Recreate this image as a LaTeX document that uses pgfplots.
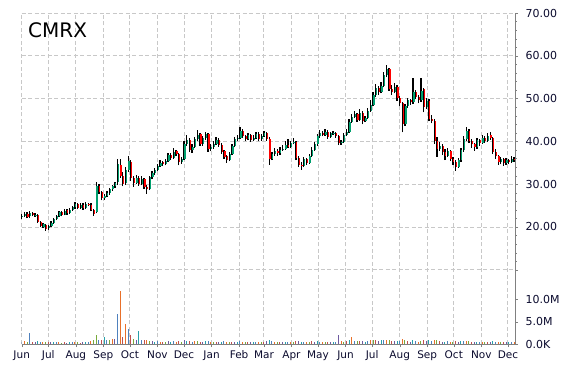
\documentclass[border=0pt]{standalone}
\usepackage{pgfplots}
\pgfplotsset{compat=1.18}
\usepackage{pgfplotstable}
\usepackage{fontspec}
\setmainfont{DejaVu Sans}
\definecolor{upc}{RGB}{0,160,110}
\definecolor{dnc}{RGB}{255,0,0}
\definecolor{gridc}{RGB}{200,200,200}
\definecolor{axc}{RGB}{128,128,128}
\definecolor{txt}{RGB}{10,10,45}
\definecolor{v0}{RGB}{79,129,189}
\definecolor{v1}{RGB}{232,112,42}
\definecolor{v2}{RGB}{120,170,60}
\definecolor{v3}{RGB}{192,80,77}
\definecolor{v4}{RGB}{110,90,160}
\definecolor{v5}{RGB}{40,160,170}
\pgfplotstableread{
d o h l c v k
0 22.3 23.0 21.9 22.6 0.5 0
3 22.6 23.6 22.3 23.1 0.6 1
6 23.1 23.4 22.0 22.4 0.4 2
9 22.5 23.8 22.2 23.3 2.5 0
12 23.3 23.6 22.5 22.8 0.5 3
15 22.7 23.3 22.4 22.9 0.4 4
18 22.8 23.0 20.9 21.2 0.6 5
21 21.1 21.5 19.9 20.3 0.5 0
24 20.1 20.9 19.8 20.6 0.4 1
27 20.5 20.8 19.1 19.6 0.5 2
30 19.7 20.5 19.4 20.2 0.4 3
33 20.2 21.3 20.0 21.0 0.4 4
36 21.0 22.2 20.8 21.9 0.5 5
39 21.9 22.9 21.6 22.6 0.4 0
42 22.5 23.8 22.3 23.4 0.5 1
45 23.5 23.7 22.5 22.9 0.3 2
48 22.9 24.3 22.7 23.8 0.4 3
51 23.9 24.2 22.9 23.3 0.3 4
54 23.3 24.4 23.0 24.0 0.4 5
57 24.0 25.0 23.7 24.6 0.4 0
60 24.6 25.8 24.3 25.3 0.5 1
63 25.4 25.7 24.1 24.5 0.4 2
66 24.5 25.6 24.2 25.2 0.3 3
69 25.2 25.5 24.0 24.4 0.4 4
72 24.4 25.8 24.2 25.4 0.5 5
75 25.4 25.7 24.8 25.1 0.4 0
78 25.1 25.5 23.7 24.0 0.6 1
81 24.0 24.3 22.6 23.0 0.8 2
84 23.4 30.5 23.2 29.6 2.0 2
87 29.6 30.0 27.8 28.2 1.0 0
90 28.1 28.5 26.2 26.8 0.8 3
93 26.8 27.8 26.4 27.3 1.5 5
96 27.3 28.4 27.0 27.9 0.9 0
99 27.9 29.2 27.5 28.8 0.8 2
102 28.8 29.9 28.4 29.5 1.2 1
105 29.5 30.6 29.1 30.2 1.1 4
108 30.4 36.0 29.8 34.8 6.7 0
111 34.6 35.8 31.5 32.0 12.0 1
114 32.0 32.8 29.5 30.1 1.6 3
117 30.2 34.0 29.9 33.2 4.5 1
120 33.3 36.6 32.8 35.4 3.4 0
123 35.2 35.6 30.8 31.5 2.0 3
126 31.5 32.0 29.4 30.3 1.2 2
129 30.3 32.2 30.0 31.4 1.0 4
132 31.4 31.8 29.6 30.0 3.0 5
135 30.0 31.8 29.7 31.2 0.8 0
138 31.2 31.5 28.9 29.4 0.9 3
141 29.4 29.8 27.8 28.8 0.8 1
144 28.8 32.0 28.6 31.6 0.7 2
147 31.6 33.0 31.2 32.5 0.6 4
150 32.5 33.9 32.1 33.4 0.5 5
153 33.4 34.8 33.0 34.3 0.6 0
156 34.3 35.6 34.0 35.0 0.5 1
159 35.1 35.5 34.2 34.7 0.4 3
162 34.7 36.0 34.4 35.5 0.5 2
165 35.5 37.4 35.2 36.8 0.6 4
168 36.9 37.3 35.7 36.1 0.4 5
171 36.1 38.4 35.9 37.6 0.6 0
174 37.7 38.0 36.5 37.0 0.5 1
177 37.0 37.3 34.4 35.2 0.7 3
180 35.2 36.4 34.8 35.8 0.5 2
183 35.8 40.0 35.6 39.4 0.8 4
186 39.4 41.6 39.0 40.3 0.7 5
189 40.4 40.7 37.5 38.0 0.6 3
192 38.0 39.4 37.4 38.7 0.5 0
195 38.7 41.0 38.4 40.5 0.6 1
198 40.5 42.7 40.1 41.6 0.7 2
201 41.7 42.0 38.9 39.4 0.5 3
204 39.4 41.3 39.0 40.8 0.5 4
207 40.8 42.3 40.4 41.7 0.6 5
210 41.7 42.0 37.6 38.2 0.7 0
213 38.2 39.3 37.7 38.8 0.5 1
216 38.8 40.0 38.3 39.5 0.4 2
219 39.5 41.0 39.2 40.4 0.5 3
222 40.4 40.8 38.8 39.2 0.4 4
225 39.2 39.6 37.1 37.6 0.5 5
228 37.7 38.0 35.9 36.4 0.6 0
231 36.5 36.8 35.0 35.7 0.5 1
234 35.7 37.6 35.4 37.1 0.5 2
237 37.1 39.4 36.8 38.9 0.4 3
240 38.9 41.1 38.6 40.6 0.5 4
243 40.6 41.4 40.2 40.9 0.4 5
246 40.9 43.4 40.6 42.4 0.6 0
249 42.4 42.8 40.8 41.2 0.5 1
252 41.2 41.6 40.1 40.6 0.4 2
255 40.6 42.0 40.3 41.5 0.5 3
258 41.5 41.8 39.8 40.3 0.4 4
261 40.3 41.4 40.0 40.9 0.5 5
264 40.9 42.3 40.6 41.8 0.4 0
267 41.8 42.1 40.0 40.5 0.5 1
270 40.5 41.8 40.2 41.3 0.4 2
273 41.3 42.4 41.0 41.9 0.5 3
276 41.9 42.2 40.1 40.6 0.6 4
279 40.6 41.0 34.6 36.0 0.9 5
282 36.0 37.6 35.6 37.1 0.6 0
285 37.1 38.4 36.7 37.8 0.5 1
288 37.8 38.2 36.6 37.2 0.4 2
291 37.2 38.6 36.9 38.1 0.5 3
294 38.1 39.2 37.8 38.3 0.4 4
297 38.3 40.0 38.0 39.2 0.5 5
300 39.2 40.6 38.5 38.8 0.4 0
303 38.8 40.2 38.5 39.6 0.5 1
306 39.6 40.8 39.3 39.9 0.4 2
309 39.9 40.2 35.6 36.2 0.7 3
312 36.2 36.7 34.0 34.6 0.6 4
315 34.6 35.3 33.4 34.2 0.5 5
318 34.2 36.3 34.0 35.8 0.5 0
321 35.8 36.1 34.6 35.0 0.4 1
324 35.0 37.0 34.7 36.6 0.5 2
327 36.6 38.6 36.3 38.1 0.6 3
330 38.1 39.8 37.8 39.3 0.5 4
333 39.3 41.8 39.0 41.2 0.6 5
336 41.2 42.6 40.9 42.0 0.5 0
339 42.0 42.4 41.2 41.6 0.4 1
342 41.6 42.8 41.3 42.3 0.5 2
345 42.3 42.6 40.6 41.1 0.4 3
348 41.1 42.3 40.8 41.9 0.5 4
351 41.9 42.5 41.5 42.0 0.4 5
354 42.0 42.3 40.9 41.3 0.5 0
357 41.3 41.6 39.1 39.6 2.0 4
360 39.6 40.4 39.2 39.9 0.6 1
363 39.9 42.0 39.6 41.5 0.5 2
366 41.5 42.8 41.2 42.2 0.6 3
369 42.2 45.2 42.0 44.6 0.8 5
372 44.6 46.4 44.3 45.8 1.6 1
375 45.8 47.2 45.4 46.3 0.7 0
378 46.3 46.7 44.6 45.1 0.6 2
381 45.1 47.6 44.8 46.6 0.7 3
384 46.6 47.0 44.0 44.8 0.6 4
387 44.8 46.0 44.5 45.5 0.5 5
390 45.5 47.8 45.2 47.2 0.7 0
393 47.2 49.6 46.9 48.6 0.8 1
396 48.6 51.6 48.3 50.8 0.9 2
399 50.8 53.4 50.4 52.4 1.0 3
402 52.4 53.0 50.9 51.6 0.7 4
405 51.6 53.9 51.2 52.9 0.8 5
408 52.9 56.2 52.6 55.4 0.9 0
411 55.4 57.9 55.0 56.8 1.0 1
414 56.8 57.2 51.8 52.3 0.9 2
417 52.3 53.2 50.8 51.5 0.7 3
420 51.5 53.6 51.2 52.8 0.6 4
423 52.8 53.2 49.5 50.1 0.7 5
426 50.1 50.6 48.2 48.9 0.6 0
429 48.9 49.3 42.1 44.0 1.1 1
432 44.0 48.8 43.6 48.3 0.9 2
435 48.3 50.2 47.9 49.6 0.6 3
438 49.6 50.0 48.5 49.1 0.5 4
441 49.1 54.8 48.8 51.5 0.8 5
444 51.5 52.0 49.8 50.4 0.6 0
447 50.4 50.8 48.9 49.6 0.5 1
450 49.6 54.8 49.3 51.7 0.7 2
453 52.2 52.5 46.8 48.0 0.8 3
456 48.0 50.1 47.6 49.5 0.6 4
459 49.5 49.8 44.7 45.3 0.8 5
462 45.3 46.2 44.2 44.8 0.6 0
465 44.8 45.2 39.4 40.1 0.9 1
468 40.1 41.0 36.4 38.2 0.8 2
471 38.2 39.8 37.8 38.9 0.6 3
474 38.9 39.4 36.8 37.5 0.5 4
477 37.5 38.2 35.6 36.7 0.5 5
480 36.7 38.4 36.3 37.8 0.6 0
483 37.8 38.1 35.4 35.9 0.5 1
486 35.9 36.4 34.6 35.2 0.5 2
489 35.2 35.6 33.1 34.1 0.6 3
492 34.1 36.2 33.8 35.6 0.5 4
495 35.6 38.5 35.3 37.9 0.6 5
498 37.9 41.2 37.6 40.6 0.7 0
501 40.6 43.4 40.2 42.4 0.7 1
504 42.4 42.9 39.6 40.2 0.6 2
507 40.2 40.6 38.5 39.3 0.5 3
510 39.3 39.7 37.8 38.6 0.5 4
513 38.6 40.9 38.3 40.3 0.5 5
516 40.3 40.6 39.0 39.7 0.4 0
519 39.7 41.5 39.4 40.8 0.5 1
522 40.8 41.2 39.6 40.2 0.4 2
525 40.2 42.0 39.9 41.3 0.5 3
528 41.4 42.1 40.4 40.8 0.5 4
531 40.8 41.1 37.0 37.6 0.6 5
534 37.6 38.2 35.9 36.5 0.5 0
537 36.5 36.9 34.6 35.1 0.5 1
540 35.1 36.3 34.7 35.8 0.4 2
543 35.8 36.1 34.3 34.9 0.4 3
546 34.9 36.1 34.6 35.6 0.4 4
549 35.6 35.9 34.8 35.3 0.4 5
552 35.3 36.5 35.0 36.0 0.4 0
555 36.0 36.3 35.2 35.6 0.4 1
}\data
\pgfplotsset{
  common/.style={
    at={(0,0)}, anchor=south west, scale only axis,
    width=493.3bp, height=331bp, xmin=0, xmax=556,
    axis line style={axc}, tick style={axc},
    tick align=outside, major tick length=3bp,
    yticklabel style={font=\fontsize{11bp}{13bp}\selectfont, text=txt, anchor=west, xshift=4bp},
  },
}
\begin{document}
\begin{tikzpicture}
\useasboundingbox (-21.7bp,-26bp) rectangle (548.3bp,344bp);
\begin{axis}[common,
  ymin=-7.34, ymax=70,
  axis x line*=bottom, axis y line*=right,
  xtick={0,30,61,92,122,153,183,214,245,273,304,334,365,395,426,457,487,518,548},
  xticklabels={Jun,Jul,Aug,Sep,Oct,Nov,Dec,Jan,Feb,Mar,Apr,May,Jun,Jul,Aug,Sep,Oct,Nov,Dec},
  xticklabel style={font=\fontsize{10.5bp}{12bp}\selectfont, text=txt},
  ytick={10,20,30,40,50,60,70},
  yticklabels={,20.00,30.00,40.00,50.00,60.00,70.00},
  minor y tick num=4, minor tick length=1.5bp,
  grid=major,
  major grid style={gridc, dash pattern=on 4bp off 2.5bp, line width=0.9bp},
  clip=false,
]
\addplot[draw=none, mark=none, forget plot,
  error bars/.cd, y dir=plus, y explicit, error mark=none,
  error bar style={draw=black, solid, line width=1.3bp}]
  table[x=d, y=l, y error expr=\thisrow{h}-\thisrow{l}] {\data};
\addplot[restrict expr to domain={\thisrow{c}-\thisrow{o}}{0:1000},
  draw=none, mark=none, forget plot,
  error bars/.cd, y dir=plus, y explicit, error mark=none,
  error bar style={draw=upc, solid, line width=1.3bp, xshift=0.9bp}]
  table[x=d, y=o, y error expr=\thisrow{c}-\thisrow{o}] {\data};
\addplot[restrict expr to domain={\thisrow{o}-\thisrow{c}}{0.0001:1000},
  draw=none, mark=none, forget plot,
  error bars/.cd, y dir=plus, y explicit, error mark=none,
  error bar style={draw=dnc, solid, line width=1.3bp, xshift=0.9bp}]
  table[x=d, y=c, y error expr=\thisrow{o}-\thisrow{c}] {\data};
\node[anchor=base west, font=\fontsize{20bp}{24bp}\selectfont, inner sep=0pt]
  at (rel axis cs:0,1) [xshift=6.3bp, yshift=-24.5bp] {CMRX};
\end{axis}
\begin{axis}[common,
  ymin=0, ymax=74.4,
  axis x line=none, axis y line*=right,
  ytick={0,5,10}, yticklabels={0.0K,5.0M,10.0M},
]
\addplot[restrict expr to domain={\thisrow{k}}{0:0}, ycomb, v0, line width=1bp, mark=none] table[x=d, y=v] {\data};
\addplot[restrict expr to domain={\thisrow{k}}{1:1}, ycomb, v1, line width=1bp, mark=none] table[x=d, y=v] {\data};
\addplot[restrict expr to domain={\thisrow{k}}{2:2}, ycomb, v2, line width=1bp, mark=none] table[x=d, y=v] {\data};
\addplot[restrict expr to domain={\thisrow{k}}{3:3}, ycomb, v3, line width=1bp, mark=none] table[x=d, y=v] {\data};
\addplot[restrict expr to domain={\thisrow{k}}{4:4}, ycomb, v4, line width=1bp, mark=none] table[x=d, y=v] {\data};
\addplot[restrict expr to domain={\thisrow{k}}{5:5}, ycomb, v5, line width=1bp, mark=none] table[x=d, y=v] {\data};
\end{axis}
\end{tikzpicture}
\end{document}
